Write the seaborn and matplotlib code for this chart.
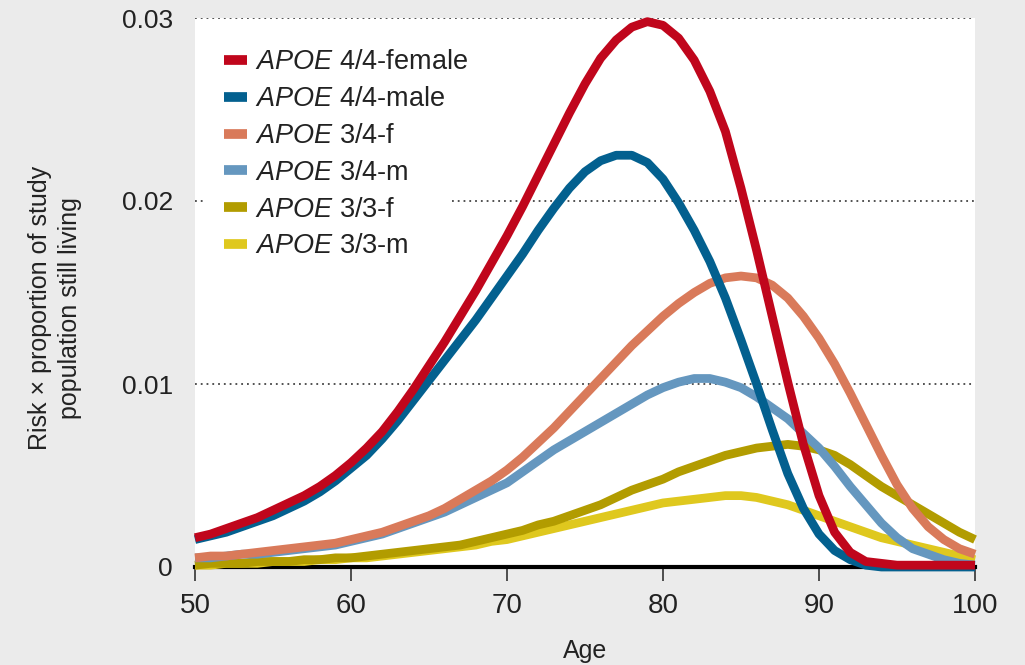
import numpy as np
import pandas as pd
import matplotlib
matplotlib.use("Agg")
import matplotlib.pyplot as plt
from matplotlib.lines import Line2D
import seaborn as sns

# ages, one point per year
ages = list(range(50, 101))

# values (risk x proportion still living)
apoe44_female = [0.0016, 0.0018, 0.0021, 0.0024, 0.0027, 0.0031, 0.0035, 0.0039, 0.0044, 0.0050,
                 0.0057, 0.0065, 0.0074, 0.0085, 0.0097, 0.0110, 0.0123, 0.0137, 0.0151, 0.0166,
                 0.0181, 0.0197, 0.0214, 0.0231, 0.0248, 0.0264, 0.0278, 0.0288, 0.0295, 0.0298,
                 0.0296, 0.0289, 0.0277, 0.0260, 0.0238, 0.0207, 0.0173, 0.0137, 0.0101, 0.0067,
                 0.0039, 0.0019, 0.0008, 0.0003, 0.0002, 0.0001, 0.0001, 0.0001, 0.0001, 0.0001,
                 0.0001]
apoe44_male = [0.0015, 0.0017, 0.0019, 0.0022, 0.0025, 0.0028, 0.0032, 0.0036, 0.0041, 0.0047,
               0.0054, 0.0061, 0.0070, 0.0080, 0.0091, 0.0102, 0.0113, 0.0124, 0.0135, 0.0147,
               0.0159, 0.0171, 0.0184, 0.0196, 0.0207, 0.0216, 0.0222, 0.0225, 0.0225, 0.0221,
               0.0212, 0.0199, 0.0184, 0.0167, 0.0147, 0.0124, 0.0100, 0.0075, 0.0051, 0.0032,
               0.0018, 0.0009, 0.0004, 0.0001, 0.0, 0.0, 0.0, 0.0, 0.0, 0.0,
               0.0]
apoe34_f = [0.0005, 0.0006, 0.0006, 0.0007, 0.0008, 0.0009, 0.0010, 0.0011, 0.0012, 0.0013,
            0.0015, 0.0017, 0.0019, 0.0022, 0.0025, 0.0028, 0.0032, 0.0037, 0.0042, 0.0047,
            0.0053, 0.0060, 0.0068, 0.0076, 0.0085, 0.0094, 0.0103, 0.0112, 0.0121, 0.0129,
            0.0137, 0.0144, 0.0150, 0.0155, 0.0158, 0.0159, 0.0158, 0.0154, 0.0147, 0.0137,
            0.0125, 0.0111, 0.0095, 0.0078, 0.0061, 0.0045, 0.0032, 0.0022, 0.0015, 0.0010,
            0.0007]
apoe34_m = [0.0005, 0.0005, 0.0006, 0.0007, 0.0007, 0.0008, 0.0009, 0.0010, 0.0011, 0.0012,
            0.0014, 0.0016, 0.0018, 0.0021, 0.0024, 0.0027, 0.0030, 0.0034, 0.0038, 0.0042,
            0.0046, 0.0052, 0.0058, 0.0064, 0.0069, 0.0074, 0.0079, 0.0084, 0.0089, 0.0094,
            0.0098, 0.0101, 0.0103, 0.0103, 0.0101, 0.0098, 0.0093, 0.0087, 0.0081, 0.0073,
            0.0065, 0.0055, 0.0044, 0.0034, 0.0024, 0.0016, 0.0010, 0.0007, 0.0004, 0.0002,
            0.0001]
apoe33_f = [0.0001, 0.0002, 0.0002, 0.0002, 0.0003, 0.0003, 0.0003, 0.0004, 0.0004, 0.0005,
            0.0005, 0.0006, 0.0007, 0.0008, 0.0009, 0.0010, 0.0011, 0.0012, 0.0014, 0.0016,
            0.0018, 0.0020, 0.0023, 0.0025, 0.0028, 0.0031, 0.0034, 0.0038, 0.0042, 0.0045,
            0.0048, 0.0052, 0.0055, 0.0058, 0.0061, 0.0063, 0.0065, 0.0066, 0.0067, 0.0066,
            0.0064, 0.0061, 0.0056, 0.0050, 0.0044, 0.0039, 0.0034, 0.0029, 0.0024, 0.0019,
            0.0015]
apoe33_m = [0.0001, 0.0001, 0.0002, 0.0002, 0.0002, 0.0003, 0.0003, 0.0003, 0.0004, 0.0004,
            0.0005, 0.0005, 0.0006, 0.0007, 0.0008, 0.0009, 0.0010, 0.0011, 0.0012, 0.0014,
            0.0015, 0.0017, 0.0019, 0.0021, 0.0023, 0.0025, 0.0027, 0.0029, 0.0031, 0.0033,
            0.0035, 0.0036, 0.0037, 0.0038, 0.0039, 0.0039, 0.0038, 0.0036, 0.0034, 0.0031,
            0.0028, 0.0025, 0.0022, 0.0019, 0.0016, 0.0014, 0.0012, 0.0010, 0.0008, 0.0006,
            0.0004]

labels = [r"$\mathit{APOE}$ 4/4-female", r"$\mathit{APOE}$ 4/4-male",
          r"$\mathit{APOE}$ 3/4-f", r"$\mathit{APOE}$ 3/4-m",
          r"$\mathit{APOE}$ 3/3-f", r"$\mathit{APOE}$ 3/3-m"]
series = [apoe44_female, apoe44_male, apoe34_f, apoe34_m, apoe33_f, apoe33_m]
colors = ["#c0061c", "#03608f", "#d97a5a", "#6597bf", "#b29c00", "#dfc81e"]

y_ticks = [0, 0.01, 0.02, 0.03]
y_ticklabels = ["0", "0.01", "0.02", "0.03"]
x_ticks = [50, 60, 70, 80, 90, 100]

sns.set_theme(style="white")
plt.rcParams["font.family"] = ["Liberation Sans", "DejaVu Sans"]
plt.rcParams["mathtext.fontset"] = "custom"
plt.rcParams["mathtext.it"] = "Liberation Sans:italic"
plt.rcParams["mathtext.rm"] = "Liberation Sans"

bg = "#ebebeb"
fig = plt.figure(figsize=(10.25, 6.65), dpi=100, facecolor=bg)
ax = fig.add_axes([195 / 1025, 98 / 665, 780 / 1025, 549 / 665])
ax.set_facecolor("white")

# draw 3/3 first so the 4/4 curves sit on top
for vals, col in reversed(list(zip(series, colors))):
    df = pd.DataFrame({"Age": ages, "val": vals})
    sns.lineplot(data=df, x="Age", y="val", color=col, linewidth=6.3,
                 ax=ax, zorder=3, clip_on=False,
                 solid_joinstyle="round", solid_capstyle="butt")

ax.set_xlim(50, 100)
ax.set_ylim(0, 0.03)
ax.set_yticks(y_ticks)
ax.set_yticklabels(y_ticklabels)
ax.set_xticks(x_ticks)

# dotted gridlines; the 0.02 one stops where the legend sits
grid_kw = dict(color="#444444", lw=1.3, ls=(0, (1, 2.2)), zorder=1)
ax.axhline(0.01, **grid_kw)
ax.axhline(0.03, **grid_kw)
ax.axhline(0.02, xmax=0.013, **grid_kw)
ax.axhline(0.02, xmin=0.33, **grid_kw)

for s in ["top", "right", "left"]:
    ax.spines[s].set_visible(False)
ax.spines["bottom"].set_color("black")
ax.spines["bottom"].set_linewidth(3)
ax.spines["bottom"].set_zorder(2.5)

ax.tick_params(axis="x", length=10, width=1.2, color="#333333", pad=9,
               labelsize=20, labelcolor="#222222", bottom=True)
ax.tick_params(axis="y", length=0, pad=16, labelsize=19, labelcolor="#222222")

ax.set_xlabel("Age", fontsize=18, color="#222222", labelpad=14)
ax.set_ylabel("")
fig.text(55 / 1025, 1 - 308 / 665,
         "Risk \u00d7 proportion of study\npopulation still living",
         rotation=90, ha="center", va="center", multialignment="center",
         fontsize=18, color="#222222", linespacing=1.3)

handles = [Line2D([0], [0], color=c, lw=7, solid_capstyle="butt") for c in colors]
leg = ax.legend(handles, labels, loc="upper left", bbox_to_anchor=(0.015, 0.975),
                fontsize=19.5, frameon=False, handlelength=0.82, handletextpad=0.32,
                labelspacing=0.4, borderpad=0.65, borderaxespad=0)
for t in leg.get_texts():
    t.set_color("#222222")

fig.savefig("out.png", dpi=100, facecolor=bg)
